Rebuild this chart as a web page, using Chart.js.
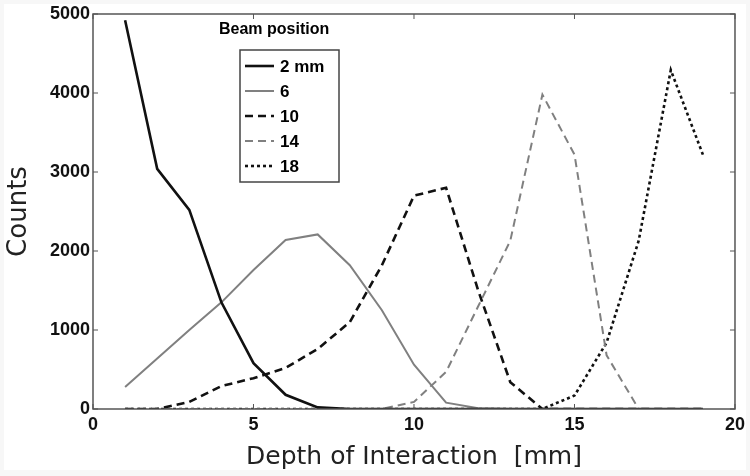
<!DOCTYPE html>
<html>
<head>
<meta charset="utf-8">
<script src="https://cdn.jsdelivr.net/npm/chart.js@4.4.1/dist/chart.umd.min.js"></script>
<style>
  html, body { margin: 0; padding: 0; background: #fff; }
  #wrap { width: 750px; height: 476px; }
</style>
</head>
<body>
<div id="wrap"><canvas id="chart" width="750" height="476"></canvas></div>
<script>
// depth in mm (x) and counts per beam position
const depth = [1, 2, 3, 4, 5, 6, 7, 8, 9, 10, 11, 12, 13, 14, 15, 16, 17, 18, 19];
const beam2 = [4920, 3040, 2520, 1350, 580, 180, 20, 0, 0, 0, 0, 0, 0, 0, 0, 0, 0, 0, 0];
const beam6 = [280, 640, 1000, 1350, 1760, 2140, 2210, 1820, 1250, 560, 80, 10, 0, 0, 0, 0, 0, 0, 0];
const beam10 = [0, 0, 90, 290, 390, 520, 760, 1100, 1820, 2700, 2800, 1500, 340, 0, 0, 0, 0, 0, 0];
const beam14 = [0, 0, 0, 0, 0, 0, 0, 0, 0, 90, 470, 1300, 2130, 3980, 3220, 680, 0, 0, 0];
const beam18 = [0, 0, 0, 0, 0, 0, 0, 0, 0, 0, 0, 0, 0, 0, 170, 840, 2130, 4290, 3220];

const labels = ['2 mm', '6', '10', '14', '18'];
const xTicks = [0, 5, 10, 15, 20];
const yTicks = [0, 1000, 2000, 3000, 4000, 5000];

function pts(arr) {
    return depth.map((d, i) => ({ x: d, y: arr[i] }));
}

const black = '#111';
const gray = '#808080';
const tickFont = { family: '"Liberation Sans", Arial, sans-serif', size: 18, weight: 'bold' };

const datasets = [
    { label: labels[0], data: pts(beam2), borderColor: black, borderWidth: 2.6, borderDash: [] },
    { label: labels[1], data: pts(beam6), borderColor: gray, borderWidth: 2, borderDash: [] },
    { label: labels[2], data: pts(beam10), borderColor: black, borderWidth: 2.6, borderDash: [8, 5] },
    { label: labels[3], data: pts(beam14), borderColor: gray, borderWidth: 2, borderDash: [8, 5] },
    { label: labels[4], data: pts(beam18), borderColor: black, borderWidth: 2.6, borderDash: [3, 3] }
].map(ds => Object.assign(ds, { pointRadius: 0, fill: false, tension: 0 }));

// light grey margin around the figure, like the scan
const paper = {
    id: 'paper',
    beforeDraw(chart) {
        const ctx = chart.ctx;
        ctx.save();
        ctx.fillStyle = '#f7f7f7';
        ctx.fillRect(0, 0, chart.width, chart.height);
        ctx.fillStyle = '#fff';
        ctx.fillRect(4, 4, chart.width - 8, chart.height - 10);
        ctx.restore();
    }
};

// box, inward ticks on all sides (matlab look)
const frame = {
    id: 'frame',
    afterDatasetsDraw(chart) {
        const { ctx, chartArea: a, scales } = chart;
        ctx.save();
        ctx.strokeStyle = '#555';
        ctx.lineWidth = 1.5;
        ctx.strokeRect(a.left, a.top, a.right - a.left, a.bottom - a.top);
        ctx.lineWidth = 1;
        const t = 5;
        xTicks.forEach(v => {
            const px = scales.x.getPixelForValue(v);
            ctx.beginPath();
            ctx.moveTo(px, a.bottom); ctx.lineTo(px, a.bottom - t);
            ctx.moveTo(px, a.top); ctx.lineTo(px, a.top + t);
            ctx.stroke();
        });
        yTicks.forEach(v => {
            const py = scales.y.getPixelForValue(v);
            ctx.beginPath();
            ctx.moveTo(a.left, py); ctx.lineTo(a.left + t, py);
            ctx.moveTo(a.right, py); ctx.lineTo(a.right - t, py);
            ctx.stroke();
        });
        ctx.restore();
    }
};

// legend box inside the plot
const boxLegend = {
    id: 'boxLegend',
    afterDatasetsDraw(chart) {
        const ctx = chart.ctx;
        ctx.save();
        ctx.fillStyle = '#000';
        ctx.font = 'bold 16px "Liberation Sans", Arial, sans-serif';
        ctx.textBaseline = 'middle';
        ctx.fillText('Beam position', 219, 30);
        ctx.fillStyle = '#fff';
        ctx.fillRect(240, 50, 99, 132);
        ctx.strokeStyle = '#444';
        ctx.lineWidth = 1.5;
        ctx.strokeRect(240, 50, 99, 132);
        ctx.font = 'bold 17px "Liberation Sans", Arial, sans-serif';
        chart.data.datasets.forEach((ds, i) => {
            const y = 66 + i * 25;
            ctx.strokeStyle = ds.borderColor;
            ctx.lineWidth = ds.borderWidth;
            ctx.setLineDash(ds.borderDash);
            ctx.beginPath();
            ctx.moveTo(245, y); ctx.lineTo(274, y);
            ctx.stroke();
            ctx.setLineDash([]);
            ctx.fillStyle = '#000';
            ctx.fillText(ds.label, 280, y + 1);
        });
        ctx.restore();
    }
};

new Chart(document.getElementById('chart'), {
    type: 'line',
    data: { datasets },
    plugins: [paper, frame, boxLegend],
    options: {
        responsive: false,
        animation: false,
        layout: { padding: { top: 14, right: 13, left: 0, bottom: 0 } },
        plugins: { legend: { display: false }, tooltip: { enabled: false } },
        scales: {
            x: {
                type: 'linear', min: 0, max: 20,
                afterFit(s) { s.height = 67; },
                afterBuildTicks(s) { s.ticks = xTicks.map(v => ({ value: v })); },
                grid: { display: false, drawTicks: false },
                border: { display: false },
                ticks: { color: '#111', padding: 5, maxRotation: 0, font: tickFont,
                    callback: v => String(v) },
                title: { display: true, text: 'Depth of Interaction  [mm]', color: '#222',
                    padding: { top: 4 }, font: { family: '"DejaVu Sans", sans-serif', size: 25 } }
            },
            y: {
                type: 'linear', min: 0, max: 5000,
                afterFit(s) { s.width = 93; },
                afterBuildTicks(s) { s.ticks = yTicks.map(v => ({ value: v })); },
                grid: { display: false, drawTicks: false },
                border: { display: false },
                ticks: { color: '#111', padding: 3, font: tickFont,
                    callback: v => String(v) },
                title: { display: true, text: 'Counts', color: '#222',
                    padding: { top: 4, bottom: 0 }, font: { family: '"DejaVu Sans", sans-serif', size: 26 } }
            }
        }
    }
});
</script>
</body>
</html>
